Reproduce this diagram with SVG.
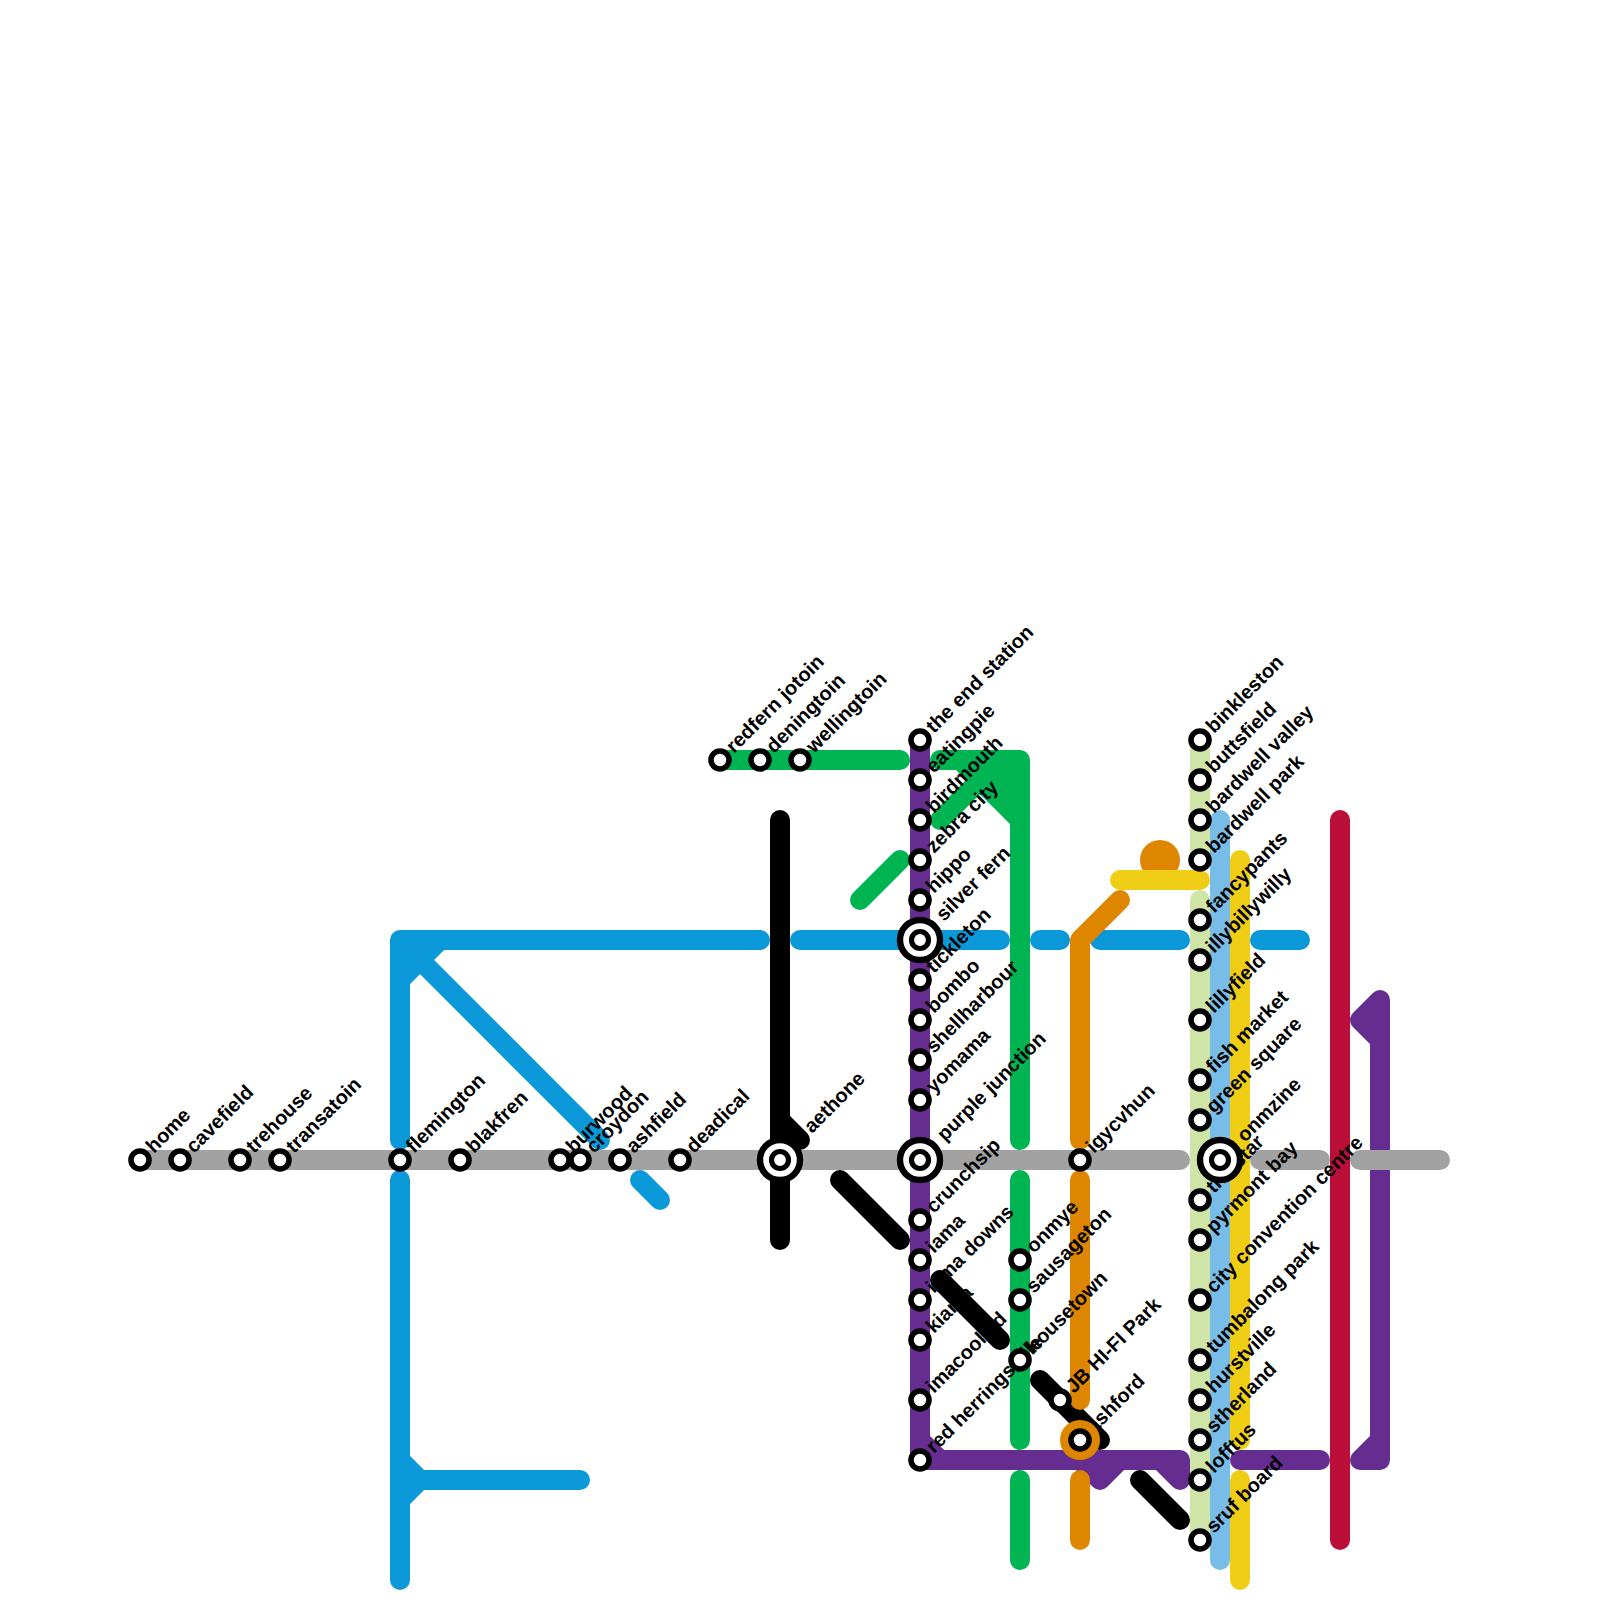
<svg xmlns="http://www.w3.org/2000/svg" width="1600" height="1600" viewBox="0 0 1600 1600">
<style>
.l{fill:none;stroke-width:20;stroke-linecap:round;stroke-linejoin:round}
.grey{stroke:#a2a2a2}.blue{stroke:#0a98d8}.green{stroke:#00b451}.purple{stroke:#662d91}.orange{stroke:#df8600}.yellow{stroke:#f0ce15}.lg{stroke:#cfe4a7}.lb{stroke:#78bce8}.red{stroke:#bb0f3a}.black{stroke:#000}
.s{fill:#fff;stroke:#000;stroke-width:5.6}
.i{fill:#fff;stroke:#000;stroke-width:6.4}
.c{fill:#fff;stroke:#000;stroke-width:5.2}
.o{fill:#df8600}
text{font-family:"Liberation Sans",Arial,sans-serif;font-weight:700;font-size:20px;fill:#000}
</style>
<rect width="1600" height="1600" fill="#fff"/>
<g id="connectors">
<path class="l blue" d="M400 1140V940H760M800 940H1000M1040 940H1060M1100 940H1180M1260 940H1300M400 980L440 940M400 940L600 1140M640 1180L660 1200M400 1180V1580M400 1460L420 1480L400 1500M420 1480H580"/>
<path class="l lg" d="M1200 740V860M1200 900V1540"/>
<path class="l lb" d="M1220 820V1560"/>
<path class="l green" d="M720 760H900M940 760H1020V1140M940 820L1000 760M960 760L1020 820M980 760L1020 800M1000 760L1020 780M860 900L900 860M1020 1180V1440M1020 1480V1560"/>
<path class="l purple" d="M920 740V1460H1180V1480M920 1440L940 1460M1080 1460L1100 1480L1120 1460M1160 1460L1180 1480M1240 1460H1320M1360 1460H1380V1000L1360 1020L1380 1040M1360 1460L1380 1440"/>
<path class="l orange" d="M1120 900L1080 940V1140M1080 1480V1540"/>
<path class="l yellow" d="M1240 860V1440M1240 1480V1580"/>
<path class="l grey" d="M140 1160H1180M1260 1160H1320M1360 1160H1440"/>
<path class="l red" d="M1340 820V1540"/>
</g>
<g id="under-black-labels">
<text id="label-aethone" transform="translate(812 1134) rotate(-45)">aethone</text>
<text id="label-ashford" transform="translate(1094 1434) rotate(-45)">ashford</text>
</g>
<g id="n-iama-downs"><text transform="translate(934 1294) rotate(-45)">iama downs</text><circle class="s" cx="920" cy="1300" r="9"/></g>
<g id="n-kiama"><text transform="translate(934 1334) rotate(-45)">kiama</text><circle class="s" cx="920" cy="1340" r="9"/></g>
<g id="n-imacoolkid"><text transform="translate(934 1394) rotate(-45)">imacoolkid</text><circle class="s" cx="920" cy="1400" r="9"/></g>
<g id="connectors-top">
<path class="l black" d="M780 820V1240M780 1120L800 1140M840 1180L900 1240M940 1280L1000 1340M1040 1380L1100 1440M1140 1480L1180 1520"/>
<path class="l orange" d="M1080 1180V1400"/>
</g>
<g id="n-home"><text transform="translate(154 1154) rotate(-45)">home</text><circle class="s" cx="140" cy="1160" r="9"/></g>
<g id="n-cavefield"><text transform="translate(194 1154) rotate(-45)">cavefield</text><circle class="s" cx="180" cy="1160" r="9"/></g>
<g id="n-trehouse"><text transform="translate(254 1154) rotate(-45)">trehouse</text><circle class="s" cx="240" cy="1160" r="9"/></g>
<g id="n-transatoin"><text transform="translate(294 1154) rotate(-45)">transatoin</text><circle class="s" cx="280" cy="1160" r="9"/></g>
<g id="n-flemington"><text transform="translate(414 1154) rotate(-45)">flemington</text><circle class="s" cx="400" cy="1160" r="9"/></g>
<g id="n-blakfren"><text transform="translate(474 1154) rotate(-45)">blakfren</text><circle class="s" cx="460" cy="1160" r="9"/></g>
<g id="n-burwood"><text transform="translate(574 1154) rotate(-45)">burwood</text><circle class="s" cx="560" cy="1160" r="9"/></g>
<g id="n-croydon"><text transform="translate(594 1154) rotate(-45)">croydon</text><circle class="s" cx="580" cy="1160" r="9"/></g>
<g id="n-ashfield"><text transform="translate(634 1154) rotate(-45)">ashfield</text><circle class="s" cx="620" cy="1160" r="9"/></g>
<g id="n-deadical"><text transform="translate(694 1154) rotate(-45)">deadical</text><circle class="s" cx="680" cy="1160" r="9"/></g>
<g id="n-redfern-jotoin"><text transform="translate(734 754) rotate(-45)">redfern jotoin</text><circle class="s" cx="720" cy="760" r="9"/></g>
<g id="n-deningtoin"><text transform="translate(774 754) rotate(-45)">deningtoin</text><circle class="s" cx="760" cy="760" r="9"/></g>
<g id="n-aethone"><circle class="i" cx="780" cy="1160" r="20"/><circle class="c" cx="780" cy="1160" r="8.5"/></g>
<g id="n-wellingtoin"><text transform="translate(814 754) rotate(-45)">wellingtoin</text><circle class="s" cx="800" cy="760" r="9"/></g>
<g id="n-red-herringsville"><text transform="translate(934 1454) rotate(-45)">red herringsville</text><circle class="s" cx="920" cy="1460" r="9"/></g>
<g id="n-iama"><text transform="translate(934 1254) rotate(-45)">iama</text><circle class="s" cx="920" cy="1260" r="9"/></g>
<g id="n-crunchsip"><text transform="translate(934 1214) rotate(-45)">crunchsip</text><circle class="s" cx="920" cy="1220" r="9"/></g>
<g id="n-purple-junction"><text transform="translate(945 1142) rotate(-45)">purple junction</text><circle class="i" cx="920" cy="1160" r="20"/><circle class="c" cx="920" cy="1160" r="8.5"/></g>
<g id="n-yomama"><text transform="translate(934 1094) rotate(-45)">yomama</text><circle class="s" cx="920" cy="1100" r="9"/></g>
<g id="n-shellharbour"><text transform="translate(934 1054) rotate(-45)">shellharbour</text><circle class="s" cx="920" cy="1060" r="9"/></g>
<g id="n-bombo"><text transform="translate(934 1014) rotate(-45)">bombo</text><circle class="s" cx="920" cy="1020" r="9"/></g>
<g id="n-tickleton"><text transform="translate(934 974) rotate(-45)">tickleton</text><circle class="s" cx="920" cy="980" r="9"/></g>
<g id="n-silver-fern"><text transform="translate(944 922) rotate(-45)">silver fern</text><circle class="i" cx="920" cy="940" r="20"/><circle class="c" cx="920" cy="940" r="8.5"/></g>
<g id="n-hippo"><text transform="translate(934 894) rotate(-45)">hippo</text><circle class="s" cx="920" cy="900" r="9"/></g>
<g id="n-zebra-city"><text transform="translate(934 854) rotate(-45)">zebra city</text><circle class="s" cx="920" cy="860" r="9"/></g>
<g id="n-birdmouth"><text transform="translate(934 814) rotate(-45)">birdmouth</text><circle class="s" cx="920" cy="820" r="9"/></g>
<g id="n-eatingpie"><text transform="translate(934 774) rotate(-45)">eatingpie</text><circle class="s" cx="920" cy="780" r="9"/></g>
<g id="n-the-end-station"><text transform="translate(934 734) rotate(-45)">the end station</text><circle class="s" cx="920" cy="740" r="9"/></g>
<g id="n-housetown"><text transform="translate(1034 1354) rotate(-45)">housetown</text><circle class="s" cx="1020" cy="1360" r="9"/></g>
<g id="n-sausageton"><text transform="translate(1034 1294) rotate(-45)">sausageton</text><circle class="s" cx="1020" cy="1300" r="9"/></g>
<g id="n-onmye"><text transform="translate(1034 1254) rotate(-45)">onmye</text><circle class="s" cx="1020" cy="1260" r="9"/></g>
<g id="n-jb-hi-fi-park"><text transform="translate(1074 1394) rotate(-45)">JB HI-FI Park</text><circle class="s" cx="1060" cy="1400" r="9"/></g>
<g id="n-ashford"><circle class="o" cx="1080" cy="1440" r="20"/><circle class="s" cx="1080" cy="1440" r="9"/></g>
<g id="n-igycvhun"><text transform="translate(1094 1154) rotate(-45)">igycvhun</text><circle class="s" cx="1080" cy="1160" r="9"/></g>
<g id="n-orange-circle"><circle class="o" cx="1160" cy="860" r="20"/></g>
<g id="n-yellow-bar"><path class="l yellow" d="M1120 880H1200"/></g>
<g id="n-sruf-board"><text transform="translate(1214 1534) rotate(-45)">sruf board</text><circle class="s" cx="1200" cy="1540" r="9"/></g>
<g id="n-lofftus"><text transform="translate(1214 1474) rotate(-45)">lofftus</text><circle class="s" cx="1200" cy="1480" r="9"/></g>
<g id="n-stherland"><text transform="translate(1214 1434) rotate(-45)">stherland</text><circle class="s" cx="1200" cy="1440" r="9"/></g>
<g id="n-hurstville"><text transform="translate(1214 1394) rotate(-45)">hurstville</text><circle class="s" cx="1200" cy="1400" r="9"/></g>
<g id="n-tumbalong-park"><text transform="translate(1214 1354) rotate(-45)">tumbalong park</text><circle class="s" cx="1200" cy="1360" r="9"/></g>
<g id="n-city-convention-centre"><text transform="translate(1214 1294) rotate(-45)">city convention centre</text><circle class="s" cx="1200" cy="1300" r="9"/></g>
<g id="n-pyrmont-bay"><text transform="translate(1214 1234) rotate(-45)">pyrmont bay</text><circle class="s" cx="1200" cy="1240" r="9"/></g>
<g id="n-the-star"><text transform="translate(1214 1194) rotate(-45)">the star</text><circle class="s" cx="1200" cy="1200" r="9"/></g>
<g id="n-green-square"><text transform="translate(1214 1114) rotate(-45)">green square</text><circle class="s" cx="1200" cy="1120" r="9"/></g>
<g id="n-fish-market"><text transform="translate(1214 1074) rotate(-45)">fish market</text><circle class="s" cx="1200" cy="1080" r="9"/></g>
<g id="n-lillyfield"><text transform="translate(1214 1014) rotate(-45)">lillyfield</text><circle class="s" cx="1200" cy="1020" r="9"/></g>
<g id="n-illybillywilly"><text transform="translate(1214 954) rotate(-45)">illybillywilly</text><circle class="s" cx="1200" cy="960" r="9"/></g>
<g id="n-fancypants"><text transform="translate(1214 914) rotate(-45)">fancypants</text><circle class="s" cx="1200" cy="920" r="9"/></g>
<g id="n-bardwell-park"><text transform="translate(1214 854) rotate(-45)">bardwell park</text><circle class="s" cx="1200" cy="860" r="9"/></g>
<g id="n-bardwell-valley"><text transform="translate(1214 814) rotate(-45)">bardwell valley</text><circle class="s" cx="1200" cy="820" r="9"/></g>
<g id="n-buttsfield"><text transform="translate(1214 774) rotate(-45)">buttsfield</text><circle class="s" cx="1200" cy="780" r="9"/></g>
<g id="n-binkleston"><text transform="translate(1214 734) rotate(-45)">binkleston</text><circle class="s" cx="1200" cy="740" r="9"/></g>
<g id="n-onmzine"><text transform="translate(1245 1143) rotate(-45)">onmzine</text><circle class="i" cx="1220" cy="1160" r="20"/><circle class="c" cx="1220" cy="1160" r="8.5"/></g>
</svg>
